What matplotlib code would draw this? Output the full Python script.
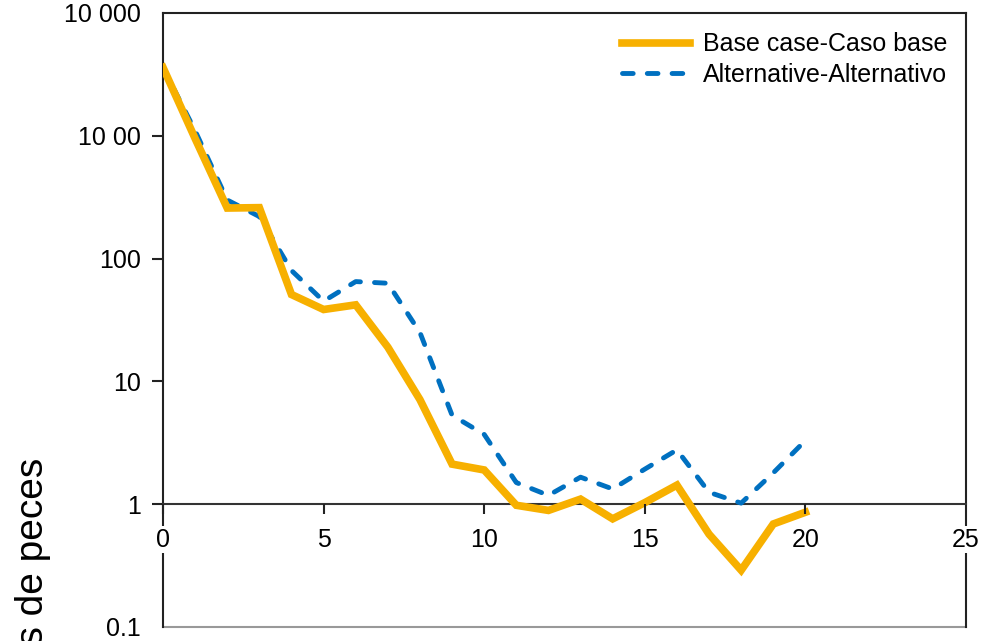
import matplotlib
matplotlib.use("Agg")
import matplotlib.pyplot as plt

plt.rcParams['font.family'] = ['Liberation Sans', 'DejaVu Sans']

x_years = list(range(21))
base_case = [3600, 950, 258, 260, 51, 38.5, 42, 19, 7.1, 2.12, 1.9, 0.98, 0.89,
             1.1, 0.76, 1.03, 1.43, 0.57, 0.29, 0.69, 0.86]
alternative = [3600, 1100, 300, 220, 80, 45, 65, 63, 25, 5.3, 3.7, 1.5, 1.18,
               1.66, 1.33, 1.93, 2.77, 1.25, 1.02, 1.8, 3.3]
y_ticks = [0.1, 1, 10, 100, 1000, 10000]
y_tick_labels = ["0.1", "1", "10", "100", "10 00", "10 000"]
x_ticks = [0, 5, 10, 15, 20, 25]
labels = ["Base case-Caso base", "Alternative-Alternativo"]

fig = plt.figure(figsize=(9.97, 6.41), dpi=100)
ax = fig.add_axes([163/997, 1-627/641, (966-163)/997, (627-13)/641])
ax.set_yscale('log')
ax.set_ylim(0.1, 10000)
ax.set_xlim(0, 25)

l2, = ax.plot(x_years, alternative, color='#0070C0', lw=3.5, dashes=(2.2, 2.9),
              dash_capstyle='round', zorder=3, label=labels[1])
l1, = ax.plot(x_years, base_case, color='#F7B000', lw=5.5, zorder=4,
              solid_joinstyle='miter', label=labels[0])

ax.spines['bottom'].set_position(('data', 1))
for s in ['left', 'right', 'top']:
    ax.spines[s].set_linewidth(1.5)
    ax.spines[s].set_color('#222222')
ax.spines['bottom'].set_linewidth(1.5)
ax.spines['bottom'].set_color('#333333')
# frame bottom line at 0.1
ax.axhline(0.1, color='#999999', lw=1.5, clip_on=False, zorder=2.5)

ax.set_yticks(y_ticks)
ax.set_yticklabels(y_tick_labels)
ax.yaxis.set_minor_locator(matplotlib.ticker.NullLocator())
ax.tick_params(axis='y', direction='out', length=8, width=1.5, pad=8,
               labelsize=18, color='#222222')
yt = ax.yaxis.get_major_ticks()
yt[0].tick1line.set_visible(False)
yt[-1].tick1line.set_visible(False)

ax.set_xticks(x_ticks)
ax.set_xticklabels([str(v) for v in x_ticks])
ax.tick_params(axis='x', direction='out', length=7, width=1.5, pad=10,
               labelsize=18, color='#222222')
xt = ax.xaxis.get_major_ticks()
xt[-1].tick1line.set_visible(False)
for lab in ax.get_xticklabels():
    lab.set_bbox(dict(facecolor='white', edgecolor='none', pad=1))
ax.xaxis.set_zorder(5)

leg = ax.legend(handles=[l1, l2], loc='upper right', frameon=False, fontsize=18,
                handlelength=2.7, handletextpad=0.55, labelspacing=0.25,
                bbox_to_anchor=(0.999, 0.997), borderaxespad=0.3)

fig.text(0.033, 1-458/641, "Números de peces", rotation=90, va='top', ha='center',
         fontsize=28)

fig.savefig('out.png', dpi=100)
